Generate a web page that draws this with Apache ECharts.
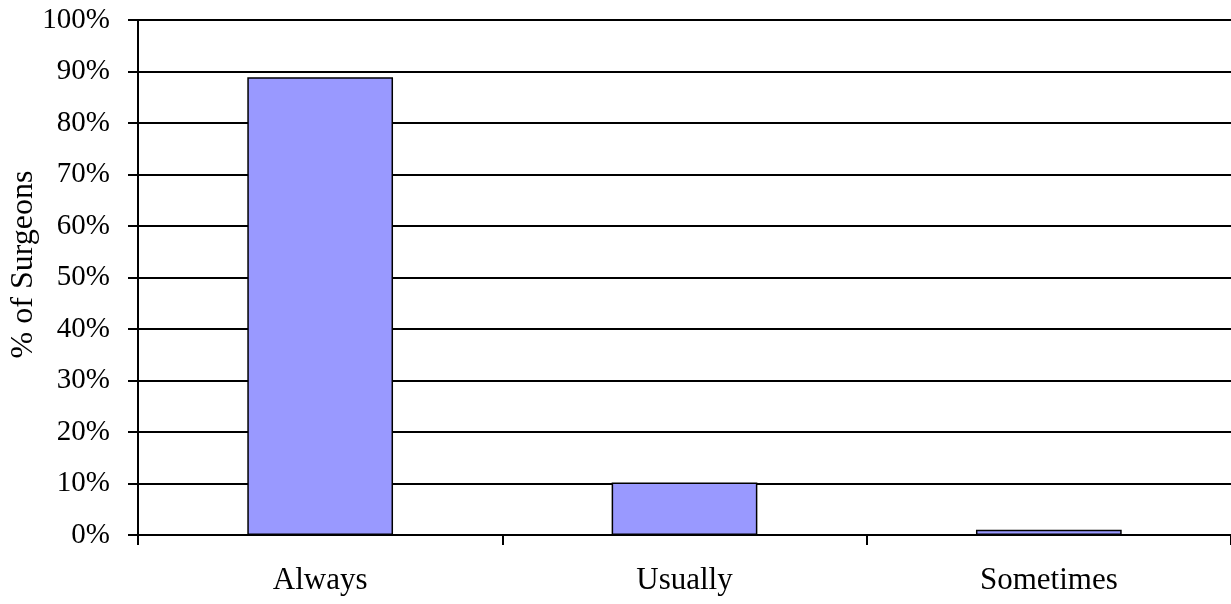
<!DOCTYPE html>
<html><head><meta charset="utf-8">
<script src="https://cdn.jsdelivr.net/npm/echarts@6/dist/echarts.min.js"></script>
<style>html,body{margin:0;padding:0;background:#fff}#c{width:1231px;height:604px}</style>
</head><body><div id="c"></div>
<script>
const categories = ['Always', 'Usually', 'Sometimes'];
const percentSurgeons = [88.9, 10.2, 1.0];
const yAxisName = '% of Surgeons';

const chart = echarts.init(document.getElementById('c'), null, {renderer: 'canvas'});
const font = '"Liberation Serif", "Times New Roman", serif';
chart.setOption({
  animation: false,
  textStyle: {fontFamily: font},
  grid: {left: 138, top: 20, right: 0, bottom: 69, containLabel: false, outerBoundsMode: 'none'},
  xAxis: {
    type: 'category',
    data: categories,
    axisLine: {lineStyle: {color: '#000', width: 2}},
    axisTick: {show: true, length: 10, lineStyle: {color: '#000', width: 2}, alignWithLabel: false},
    axisLabel: {color: '#000', fontSize: 31, fontFamily: font, margin: 30}
  },
  yAxis: {
    type: 'value',
    min: 0, max: 100, interval: 10,
    name: yAxisName,
    nameLocation: 'middle',
    nameGap: 98,
    nameMoveOverlap: false,
    nameTextStyle: {color: '#000', fontSize: 32, fontFamily: font, padding: [0, 0, 0, 26]},
    axisLine: {show: true, lineStyle: {color: '#000', width: 2}},
    axisTick: {show: true, length: 10, lineStyle: {color: '#000', width: 2}},
    axisLabel: {color: '#000', fontSize: 29, fontFamily: font, margin: 28, formatter: v => v + '%'},
    splitLine: {show: true, lineStyle: {color: '#000', width: 2}}
  },
  series: [{
    type: 'bar',
    data: percentSurgeons,
    barWidth: '40%',
    itemStyle: {color: '#9999FF', borderColor: '#000', borderWidth: 1.5}
  }]
});
</script></body></html>
